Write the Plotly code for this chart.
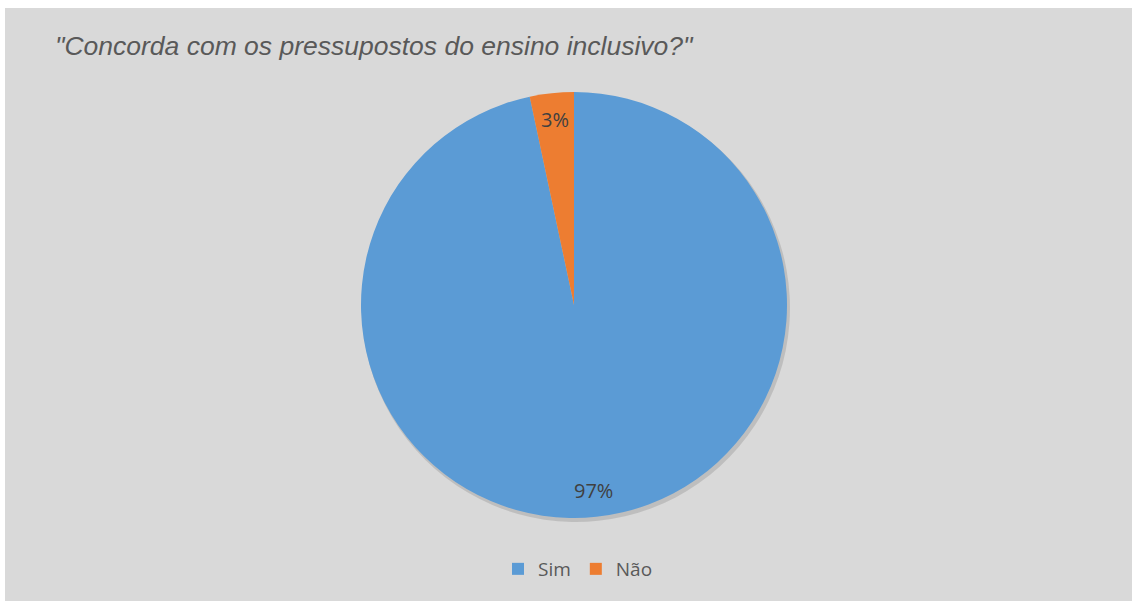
import math
import plotly.graph_objects as go

labels = ["Sim", "Não"]
values = [29, 1]
colors = ["#5b9bd5", "#ed7d31"]
title_text = '"Concorda com os pressupostos do ensino inclusivo?"'

W, H = 1132, 601
cx, cy, R = 574, 305, 213

def dom(cx, cy, R):
    return dict(x=[(cx - 2.2 * R) / W, (cx + 2.2 * R) / W],
                y=[(H - cy - R) / H, (H - cy + R) / H])

fig = go.Figure()
# soft shadow
fig.add_trace(go.Pie(
    labels=labels, values=values, sort=False, direction="clockwise", rotation=0,
    marker=dict(colors=["rgba(0,0,0,0.12)"] * 2, line=dict(width=0)),
    textinfo="none", hoverinfo="skip", showlegend=False,
    domain=dom(cx + 2, cy + 3, R + 1)))
fig.add_trace(go.Pie(
    labels=labels, values=values, sort=False, direction="clockwise", rotation=0,
    marker=dict(colors=colors, line=dict(width=0)),
    textinfo="none",
    domain=dom(cx, cy, R)))

# data labels placed along each slice's bisector, near the outer edge
total = sum(values)
annotations = []
cum = 0
for v in values:
    mid = (cum + v / 2) / total
    cum += v
    th = 2 * math.pi * mid
    r = 0.875 * R
    px = cx + r * math.sin(th)
    py = cy - r * math.cos(th)
    annotations.append(dict(
        text=f"{round(100 * v / total)}%", x=px / W, y=(H - py) / H,
        xref="paper", yref="paper", showarrow=False, xanchor="center", yanchor="middle",
        font=dict(family="Open Sans", size=20, color="#404040")))

fig.update_layout(
    width=W, height=H,
    margin=dict(l=0, r=0, t=0, b=0),
    paper_bgcolor="white",
    title=dict(text=title_text, x=55 / W, xanchor="left", y=1 - 46 / H, yanchor="middle",
               font=dict(family="Liberation Sans", size=26.5, color="#595959", style="italic")),
    legend=dict(orientation="h", x=578 / W, xanchor="center", y=(H - 569) / H, yanchor="middle",
                font=dict(family="Open Sans", size=19, color="#595959"),
                bgcolor="rgba(0,0,0,0)"),
    annotations=annotations,
    shapes=[dict(type="rect", xref="paper", yref="paper", x0=5 / W, x1=1, y0=0, y1=(H - 8) / H,
                 fillcolor="#d9d9d9", line=dict(width=0), layer="below")],
)
fig.write_html("out.html", config={"displayModeBar": False},
               post_script="document.body.style.margin='0';")
